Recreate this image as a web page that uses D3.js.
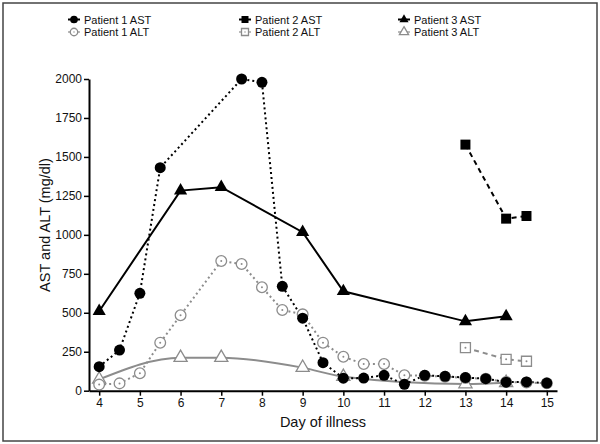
<!DOCTYPE html>
<html><head><meta charset="utf-8">
<script src="https://cdn.jsdelivr.net/npm/d3@7"></script>
<style>body{margin:0;background:#fff}svg{display:block;font-family:"Liberation Sans",Arial,sans-serif}</style>
</head><body><svg id="c" width="600" height="444"></svg>
<script>
const xTicks = [4,5,6,7,8,9,10,11,12,13,14,15];
const yTicks = [0,250,500,750,1000,1250,1500,1750,2000];

const p1Days = [4,4.5,5,5.5,6,7,7.5,8,8.5,9,9.5,10,10.5,11,11.5,12,12.5,13,13.5,14,14.5,15];
const p1ASTDays = [4,4.5,5,5.5,7.5,8,8.5,9,9.5,10,10.5,11,11.5,12,12.5,13,13.5,14,14.5,15];
const p1AST = [154,261,625,1431,2000,1979,670,465,180,80,81,99,41,99,92,84,77,55,56,49];
const p1ALT = [39,47,112,308,484,832,813,664,518,490,308,218,171,171,99,96,90,82,76,56,52,48];

const p2Days = [13,14,14.5];
const p2AST = [1579,1104,1121];
const p2ALT = [276,201,189];

const p3Days = [4,6,7,9,10,13,14];
const p3AST = [510,1284,1306,1017,638,445,477];
const p3ALT = [73,212,212,148,90,43,51];

const GRAY = "#8c8c8c";
const svg = d3.select("#c");

svg.append("rect").attr("x",3).attr("y",3).attr("width",594).attr("height",438)
  .attr("fill","none").attr("stroke","#444").attr("stroke-width",1.5);

const x = d3.scaleLinear().domain([3.75,15.25]).range([89,557]);
const y = d3.scaleLinear().domain([0,2000]).range([390.7,79]);

const xa = svg.append("g").attr("transform","translate(0,390.7)")
  .call(d3.axisBottom(x).tickValues(xTicks).tickFormat(d3.format("d")).tickSize(5).tickPadding(3).tickSizeOuter(0));
const ya = svg.append("g").attr("transform","translate(89,0)")
  .call(d3.axisLeft(y).tickValues(yTicks).tickFormat(d3.format("d")).tickSize(5).tickPadding(2).tickSizeOuter(0));
[xa,ya].forEach(a=>{
  a.select(".domain").attr("stroke","#000").attr("stroke-width",2);
  a.selectAll(".tick line").attr("stroke","#000").attr("stroke-width",1.5);
  a.selectAll(".tick text").attr("font-size",12).attr("fill","#111").attr("font-family","Liberation Sans, Arial, sans-serif");
});

svg.append("text").attr("x",323).attr("y",427).attr("text-anchor","middle")
  .attr("font-size",14.5).attr("fill","#111").text("Day of illness");
svg.append("text").attr("transform","translate(50,225) rotate(-90)").attr("text-anchor","middle")
  .attr("font-size",14.5).attr("fill","#111").text("AST and ALT (mg/dl)");

function drawLine(days, vals, color, dash, curve){
  const line = d3.line().x((d,i)=>x(days[i])).y(d=>y(d)).curve(curve||d3.curveLinear);
  svg.append("path").datum(vals).attr("d",line).attr("fill","none")
    .attr("stroke",color).attr("stroke-width",2).attr("stroke-dasharray",dash);
}

function marker(g, kind, cx, cy, color, open, scale){
  const s = scale||1;
  const sizes = {circle:95, ocircle:90, square:100, triangle:75};
  const types = {circle:d3.symbolCircle, ocircle:d3.symbolCircle, square:d3.symbolSquare, triangle:d3.symbolTriangle};
  const p = g.append("path").attr("transform",`translate(${cx},${cy})`)
    .attr("d", d3.symbol().type(types[kind]).size(sizes[kind]*s*s)());
  if(open){
    p.attr("fill","#fff").attr("stroke",color).attr("stroke-width",1.3);
    if(kind!=="triangle") g.append("circle").attr("cx",cx).attr("cy",cy).attr("r",1*s).attr("fill",color);
  } else p.attr("fill",color);
}
function drawMarkers(days, vals, kind, color, open){
  const g = svg.append("g");
  vals.forEach((v,i)=>marker(g,kind,x(days[i]),y(v),color,open));
}

// Lines
drawLine(p3Days,p3ALT,GRAY,null,d3.curveMonotoneX);
drawLine(p1Days,p1ALT,GRAY,"2,3");
drawLine(p2Days,p2ALT,GRAY,"5,4");
drawLine(p3Days,p3AST,"#000",null);
drawLine(p1ASTDays,p1AST,"#000","2,3");
drawLine(p2Days,p2AST,"#000","5,4");

// Markers
drawMarkers(p3Days,p3ALT,"triangle",GRAY,true);
drawMarkers(p1Days,p1ALT,"ocircle",GRAY,true);
drawMarkers(p2Days,p2ALT,"square",GRAY,true);
drawMarkers(p3Days,p3AST,"triangle","#000",false);
drawMarkers(p1ASTDays,p1AST,"circle","#000",false);
drawMarkers(p2Days,p2AST,"square","#000",false);

// Legend
const legend = [
  {t:"Patient 1 AST",k:"circle",c:"#000",o:false,mx:74,r:0},
  {t:"Patient 1 ALT",k:"ocircle",c:GRAY,o:true,mx:74,r:1},
  {t:"Patient 2 AST",k:"square",c:"#000",o:false,mx:245,r:0},
  {t:"Patient 2 ALT",k:"square",c:GRAY,o:true,mx:245,r:1},
  {t:"Patient 3 AST",k:"triangle",c:"#000",o:false,mx:404,r:0},
  {t:"Patient 3 ALT",k:"triangle",c:GRAY,o:true,mx:404,r:1},
];
const lg = svg.append("g");
legend.forEach(d=>{
  const cy = d.r===0 ? 19.5 : 32;
  lg.append("line").attr("x1",d.mx-6).attr("x2",d.mx+6).attr("y1",cy).attr("y2",cy)
    .attr("stroke",d.c).attr("stroke-width",d.o?1.2:2);
  const g = lg.append("g");
  marker(g,d.k,d.mx,cy,d.c,d.o,0.7);
  lg.append("text").attr("x",d.mx+10).attr("y",cy+4).attr("font-size",11)
    .attr("fill","#111").text(d.t);
});
</script></body></html>
